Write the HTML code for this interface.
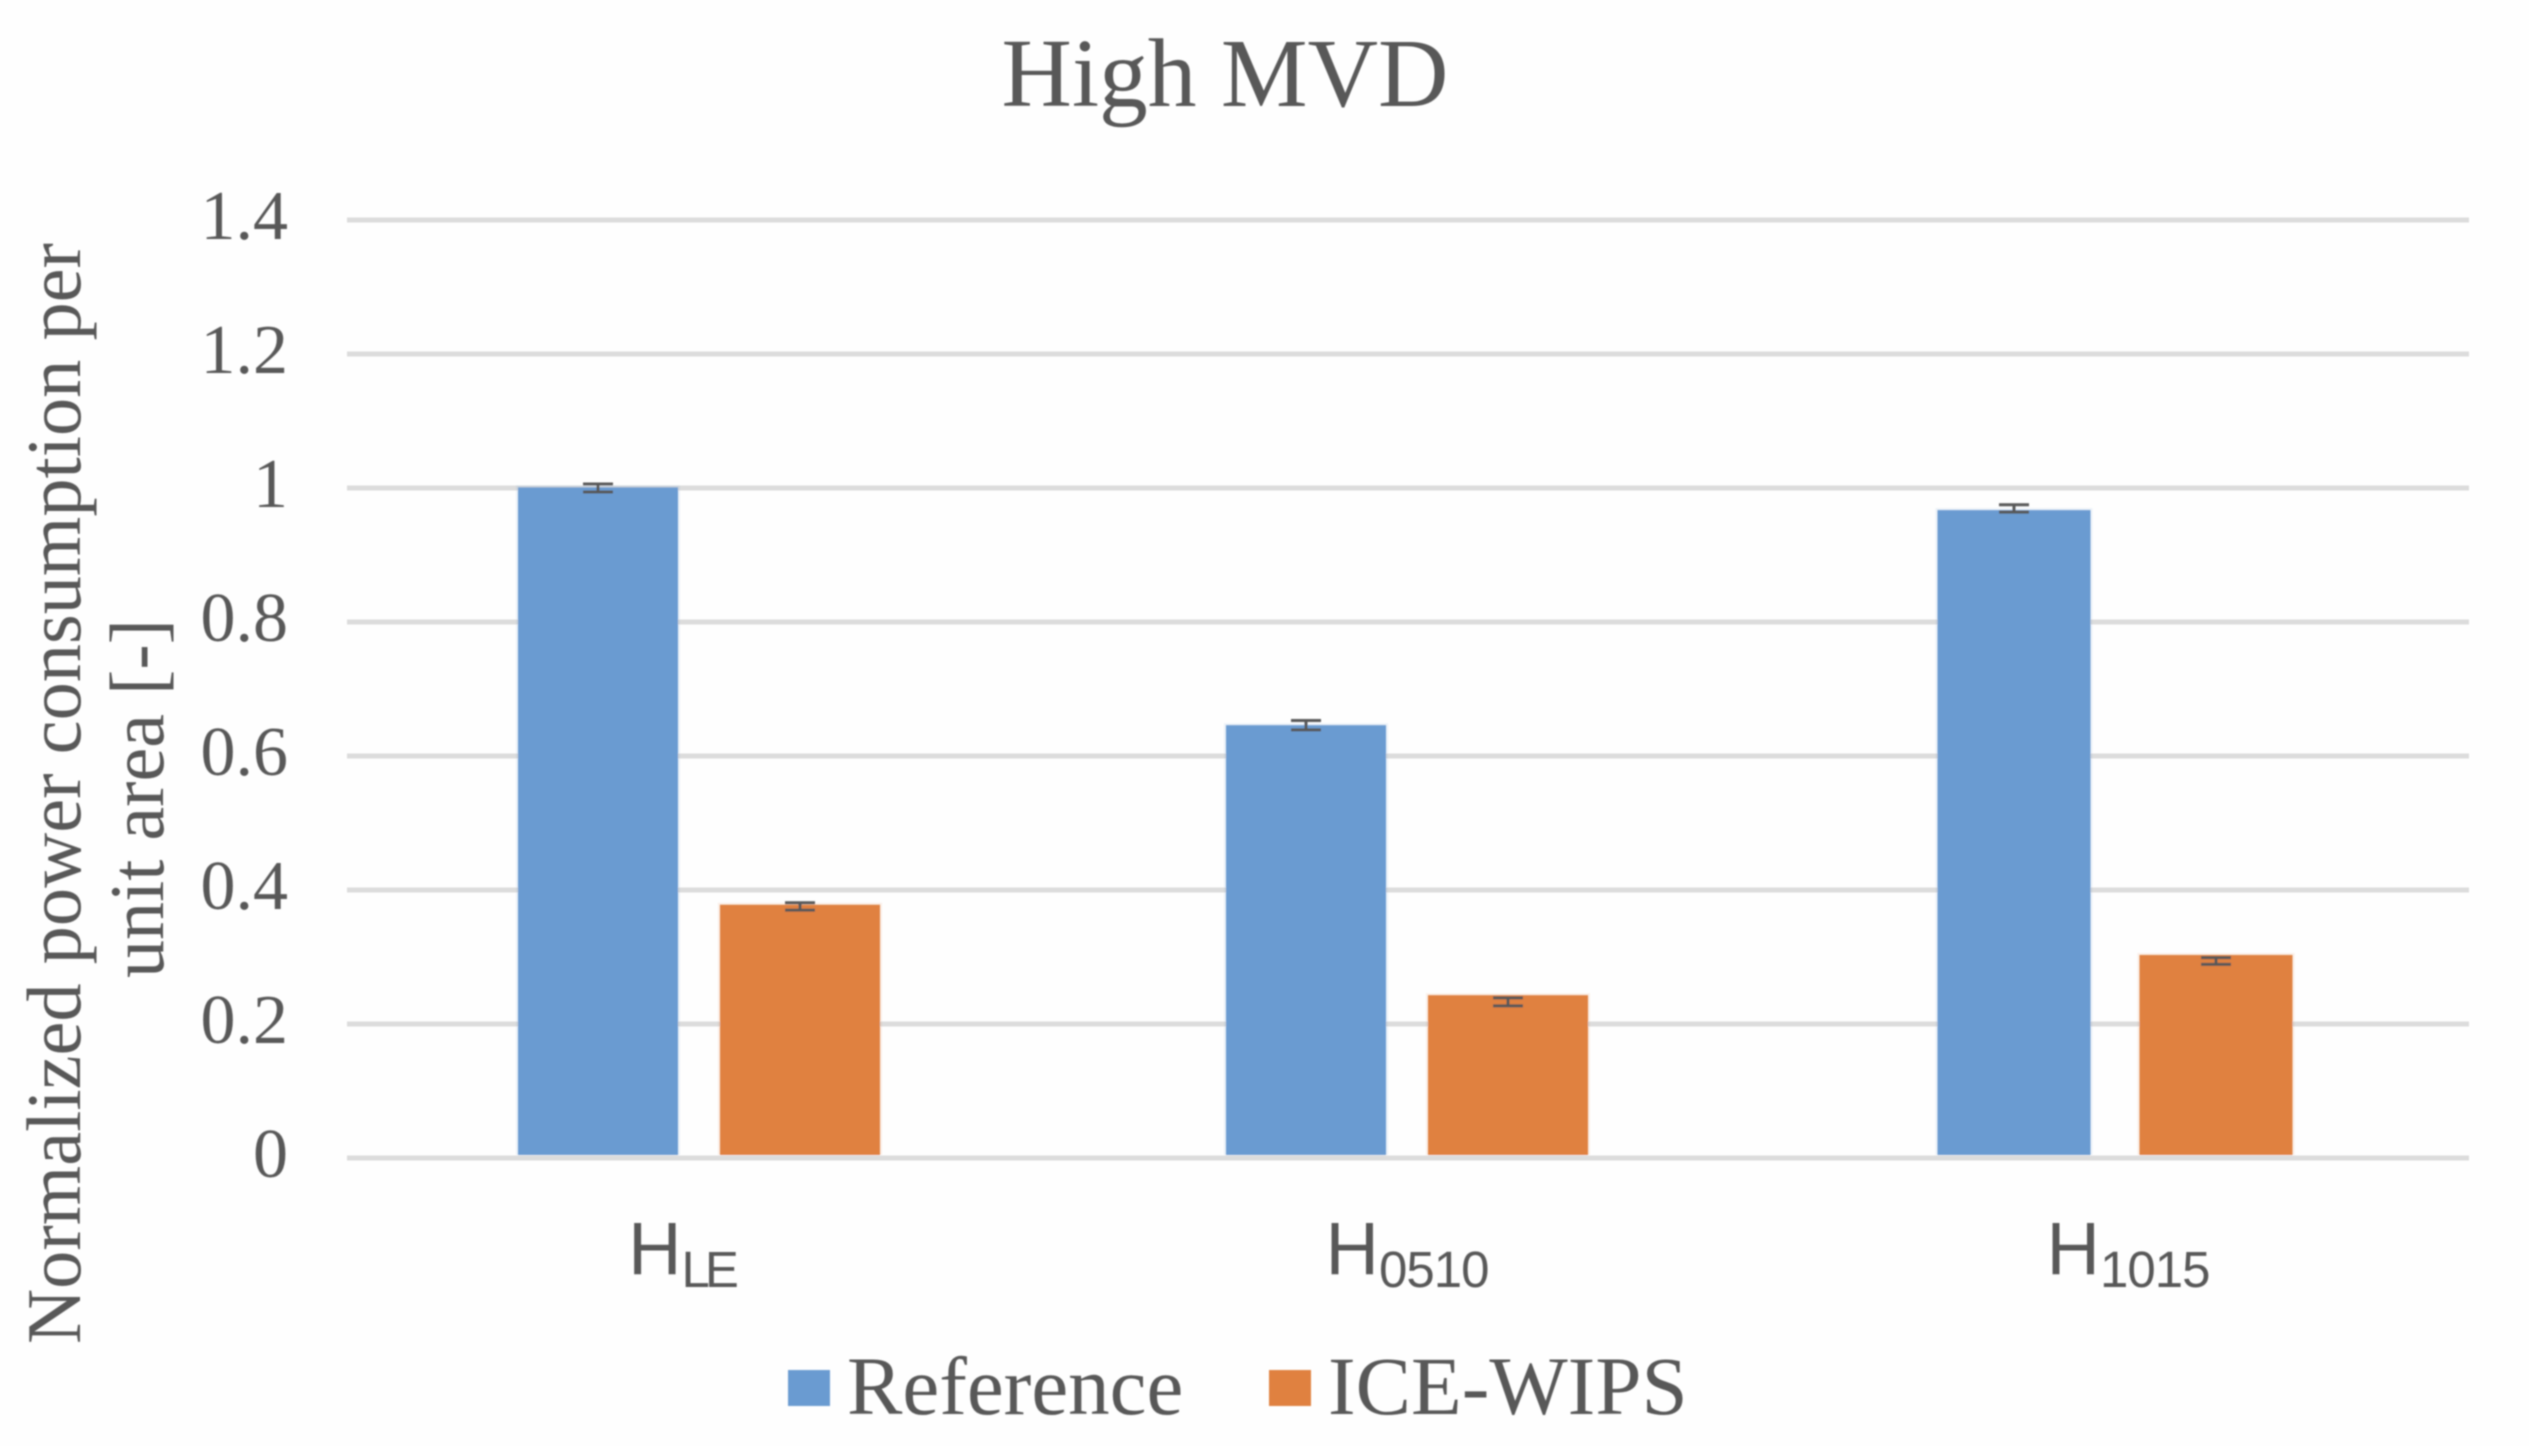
<!DOCTYPE html>
<html lang="en">
<head>
<meta charset="utf-8">
<title>High MVD</title>
<style>
  html, body { margin: 0; padding: 0; background: #fefefe; }
  svg { display: block; }
  text { font-family: "Liberation Serif", serif; fill: #595959; }
  .sans { font-family: "Liberation Sans", sans-serif; }
</style>
</head>
<body>
<svg id="chart" xmlns="http://www.w3.org/2000/svg" width="2529" height="1446" viewBox="0 0 2529 1446">
  <defs><filter id="soft" x="-2%" y="-2%" width="104%" height="104%"><feGaussianBlur stdDeviation="0.9"/></filter></defs>
  <rect x="0" y="0" width="2529" height="1446" fill="#fefefe"/>
  <g id="root" filter="url(#soft)">
    <text x="1225" y="106" font-size="97.5" text-anchor="middle">High MVD</text>
    <text transform="translate(80,1344) rotate(-90)" font-size="77" textLength="1101" lengthAdjust="spacingAndGlyphs">Normalized power consumption per</text>
    <text transform="translate(163,978) rotate(-90)" font-size="77" textLength="359" lengthAdjust="spacingAndGlyphs">unit area [-]</text>
    <g id="grid"></g>
    <g id="yticks"></g>
    <g id="bars"></g>
    <g id="whiskers"></g>
    <g id="xticks"></g>
    <g>
      <rect x="788" y="1370" width="42" height="36" fill="#6a9bd1"/>
      <text x="847" y="1414" font-size="83">Reference</text>
      <rect x="1269" y="1370" width="42" height="36" fill="#e08141"/>
      <text x="1328" y="1414" font-size="83">ICE-WIPS</text>
    </g>
  </g>
</svg>
<script>
const categories = ["LE", "0510", "1015"];
const tickValues = [0, 0.2, 0.4, 0.6, 0.8, 1, 1.2, 1.4];
const tickLabels = ["0", "0.2", "0.4", "0.6", "0.8", "1", "1.2", "1.4"];
const referenceValues = [1.001, 0.646, 0.967];
const iceWipsValues = [0.378, 0.243, 0.303];
const referenceErrorLow = [0.994, 0.639, 0.964];
const referenceErrorHigh = [1.006, 0.653, 0.975];
const iceWipsErrorLow = [0.370, 0.227, 0.289];
const iceWipsErrorHigh = [0.381, 0.239, 0.299];

const NS = "http://www.w3.org/2000/svg";
const gridLeft = 347, gridRight = 2469, bandLeft = 345, axisZero = 1158, pxPerUnit = 670;
const band = 708;

function yScale(v) { return axisZero - v * pxPerUnit; }
function xCenter(i) { return bandLeft + (i + 0.5) * band; }
function barWidth(i) { return i === 2 ? 153 : 160; }
function barGap(i) { return i === 2 ? 49 : 42; }
function make(tag, parent, attrs) {
  const el = document.createElementNS(NS, tag);
  for (const k in attrs) el.setAttribute(k, attrs[k]);
  parent.appendChild(el);
  return el;
}

const grid = document.getElementById("grid");
const yticks = document.getElementById("yticks");
tickValues.forEach(function (v, i) {
  const line = make("line", grid, { x1: gridLeft, x2: gridRight, y1: yScale(v), y2: yScale(v), stroke: "#dcdcdc", "stroke-width": 5 });
  
  
  const t = make("text", yticks, { x: 288, y: yScale(v) + 19, "font-size": 70, "text-anchor": "end" });
  t.textContent = tickLabels[i];
  
  
});

const barsG = document.getElementById("bars");
const whiskersG = document.getElementById("whiskers");
const xticks = document.getElementById("xticks");

function drawBar(value, x, w, colour) {
  const top = yScale(value);
  const halo = make("rect", barsG, { x: x - 2, y: top - 2, width: w + 4, height: axisZero - 3 - top + 2, fill: colour, opacity: 0.12 });
  
  
  const r = make("rect", barsG, { x: x, y: top, width: w, height: axisZero - 3 - top, fill: colour });
  
  
}
function drawWhisker(low, high, cx) {
  const p = make("path", whiskersG, {
    d: "M" + (cx - 15) + " " + yScale(high) + "H" + (cx + 15) +
       "M" + cx + " " + yScale(high) + "V" + yScale(low) +
       "M" + (cx - 15) + " " + yScale(low) + "H" + (cx + 15),
    stroke: "#595959", "stroke-width": 3, fill: "none"
  });
  
  
}

categories.forEach(function (cat, i) {
  const c = xCenter(i), w = barWidth(i), gap = barGap(i);
  const x1 = c - gap / 2 - w, x2 = c + gap / 2;
  drawBar(referenceValues[i], x1, w, "#6a9bd1");
  drawBar(iceWipsValues[i], x2, w, "#e08141");
  drawWhisker(referenceErrorLow[i], referenceErrorHigh[i], x1 + w / 2);
  drawWhisker(iceWipsErrorLow[i], iceWipsErrorHigh[i], x2 + w / 2);

  const labelNudge = i === 0 ? -18 : (i - 1) * 13;
  const label = make("text", xticks, { x: c + labelNudge, y: 1274, "font-size": 74, "text-anchor": "middle", "class": "sans" });
  
  
  const h = make("tspan", label, {});
  h.textContent = "H";
  const sub = make("tspan", label, { dy: 13, "font-size": 51, "letter-spacing": cat.length === 2 ? -5 : -1 });
  sub.textContent = cat;
});
</script>
</body>
</html>
